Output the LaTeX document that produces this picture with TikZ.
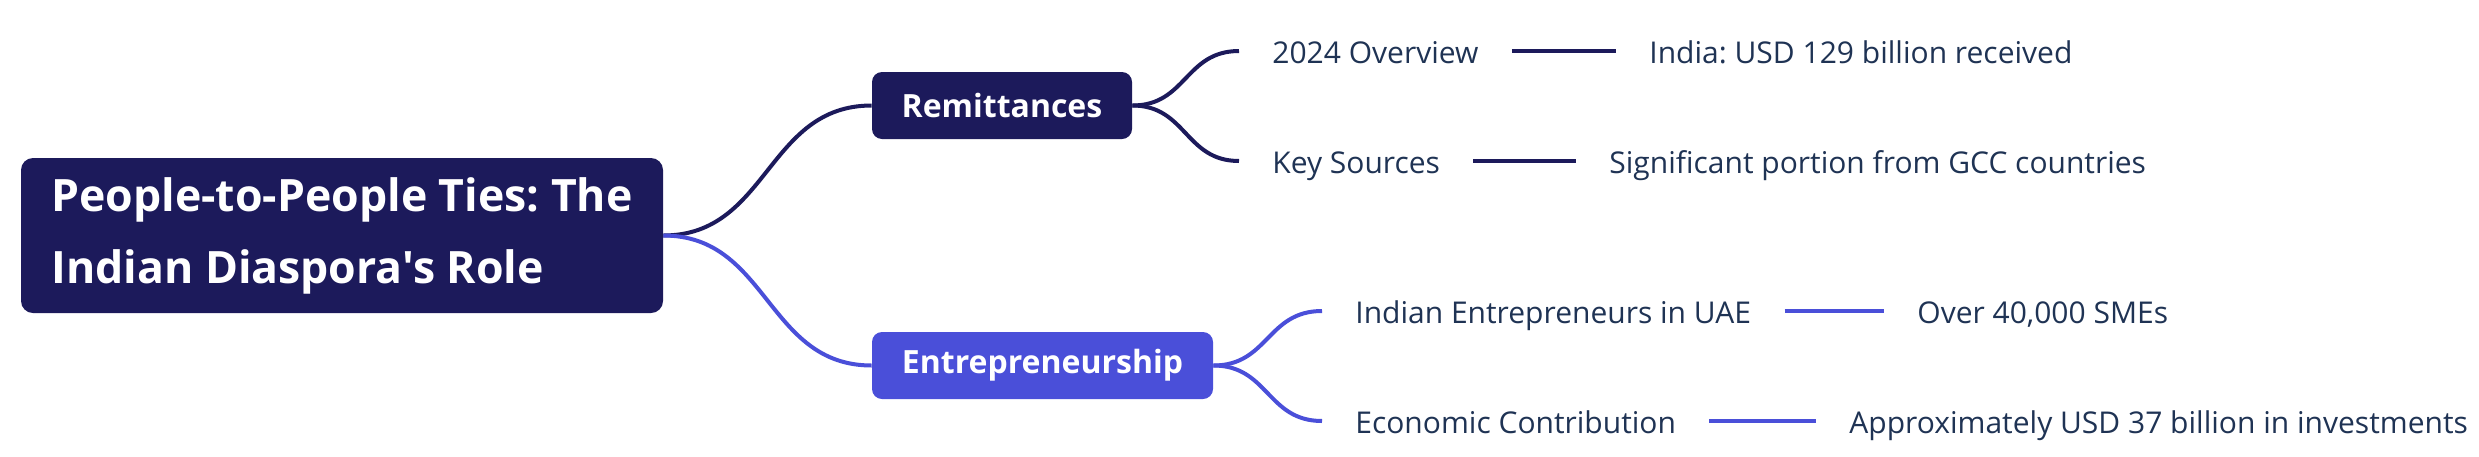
\documentclass[tikz,border=0pt]{standalone}
\usepackage{fontspec}
\setmainfont{Open Sans}[Ligatures=TeXOff]
\usepackage{tikz}
\frenchspacing
\definecolor{navy}{HTML}{1C1A5B}
\definecolor{indigo}{HTML}{4A4FD9}
\definecolor{ink}{HTML}{1F3354}
\tikzset{
	root/.style={
		rectangle,
		rounded corners=6pt,
		fill=navy,
		text=white,
		font=\fontsize{22.3}{36}\selectfont\bfseries,
		align=left,
		minimum width=321pt,
		minimum height=77.5pt,
		inner sep=0pt
	},
	topic/.style={
		rectangle,
		rounded corners=5pt,
		text=white,
		font=\fontsize{16}{20}\selectfont\bfseries,
		minimum height=33.5pt,
		inner sep=0pt
	},
	leaf/.style={
		anchor=west,
		inner xsep=16.5pt,
		inner ysep=0pt,
		text=ink,
		font=\fontsize{15}{18}\selectfont,
		text height=14pt,
		text depth=2pt
	},
	link/.style={line width=2pt}
}

\begin{document}
\begin{tikzpicture}[x=0.5pt, y=-0.5pt]
\useasboundingbox (0,0) rectangle (2479,456);
% main topic and the two branches
\node[root] (ties) at (342,235.5) {People-to-People Ties: The\\Indian Diaspora's Role};
\node[topic, fill=navy, minimum width=130pt] (remit) at (1002,105.5) {Remittances};
\node[topic, fill=indigo, minimum width=170.5pt] (entre) at (1042.5,365.5) {Entrepreneurship};
% leaves
\node[leaf] (overview) at (1239,51) {2024 Overview};
\node[leaf] (received) at (1616,51) {India: USD 129 billion received};
\node[leaf] (sources) at (1239,161) {Key Sources};
\node[leaf] (gcc) at (1576,161) {Significant portion from GCC countries};
\node[leaf] (founders) at (1322,311) {Indian Entrepreneurs in UAE};
\node[leaf] (smes) at (1884,311) {Over 40,000 SMEs};
\node[leaf] (economy) at (1322,421) {Economic Contribution};
\node[leaf] (invest) at (1816,421) {Approximately USD 37 billion in investments};

\draw[link, navy] (ties.east) .. controls +(105,0) and +(-105,0) .. (remit.west);
\draw[link, indigo] (ties.east) .. controls +(105,0) and +(-105,0) .. (entre.west);
\draw[link, navy] (remit.east) .. controls +(54,0) and +(-54,0) .. (overview.west);
\draw[link, navy] (remit.east) .. controls +(54,0) and +(-54,0) .. (sources.west);
\draw[link, indigo] (entre.east) .. controls +(55,0) and +(-55,0) .. (founders.west);
\draw[link, indigo] (entre.east) .. controls +(55,0) and +(-55,0) .. (economy.west);
\draw[link, navy] (overview.east) -- (received.west);
\draw[link, navy] (sources.east) -- (gcc.west);
\draw[link, indigo] (founders.east) -- (smes.west);
\draw[link, indigo] (economy.east) -- (invest.west);
\end{tikzpicture}
\end{document}
